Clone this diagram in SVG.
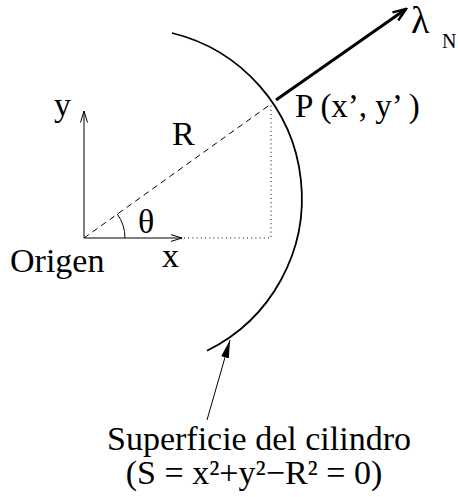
<svg xmlns="http://www.w3.org/2000/svg" width="458" height="497" viewBox="0 0 458 497">
<style>
text{font-family:"Liberation Serif","Times New Roman","DejaVu Serif",serif;fill:#000}
.t{font-size:34px}
.thin{fill:none;stroke:#000;stroke-width:1}
</style>
<defs>
<marker id="open" viewBox="0 0 12 8" refX="11.5" refY="4" markerWidth="12" markerHeight="8" markerUnits="userSpaceOnUse" orient="auto">
<path d="M0,0.5 L11.5,4 L0,7.5" fill="none" stroke="#000" stroke-width="1"/>
</marker>
<marker id="openBold" viewBox="0 0 16 12" refX="14" refY="6" markerWidth="16" markerHeight="12" markerUnits="userSpaceOnUse" orient="auto">
<path d="M1,1 L14,6 L1,11" fill="none" stroke="#000" stroke-width="2.5"/>
</marker>
<marker id="filled" viewBox="0 0 18 8" refX="18" refY="4" markerWidth="18" markerHeight="8" markerUnits="userSpaceOnUse" orient="auto">
<path d="M0,0 L18,4 L0,8 Z" fill="#000"/>
</marker>
</defs>
<g id="surface">
<path d="M172,33 A170,170 0 0,1 207,350.7" fill="none" stroke="#000" stroke-width="1.8"/>
</g>
<g id="connectors">
<line id="y-axis" class="thin" x1="84" y1="238" x2="84" y2="111" marker-end="url(#open)"/>
<line id="x-axis" class="thin" x1="84" y1="238" x2="182" y2="238" marker-end="url(#open)"/>
<path id="proj" d="M184,238 H271 V104" fill="none" stroke="#000" stroke-width="1" stroke-dasharray="1,3.2"/>
<line id="radius" x1="84" y1="238" x2="271" y2="104" stroke="#000" stroke-width="1" stroke-dasharray="6,4.5"/>
<path id="angle" d="M125,238 A41,41 0 0,0 117.3,214.1" class="thin"/>
<line id="normal" x1="276" y1="100" x2="406" y2="9" stroke="#000" stroke-width="3" marker-end="url(#openBold)"/>
<line id="leader" x1="207" y1="420" x2="230" y2="340" stroke="#000" stroke-width="1" marker-end="url(#filled)"/>
</g>
<g id="labels">
<text class="t" x="54" y="116">y</text>
<text class="t" x="172" y="145">R</text>
<text class="t" x="138" y="233">θ</text>
<text class="t" x="10" y="272">Origen</text>
<text class="t" x="162" y="267">x</text>
<text x="295" y="117" style="font-size:33px">P (x’, y’ )</text>
<text x="411" y="33" style="font-size:38px">λ</text>
<text x="442" y="48" style="font-size:20px">N</text>
<text class="t" text-anchor="middle"><tspan x="259" y="450">Superficie del cilindro</tspan><tspan x="254" y="484">(S = x²+y²−R² = 0)</tspan></text>
</g>
</svg>
